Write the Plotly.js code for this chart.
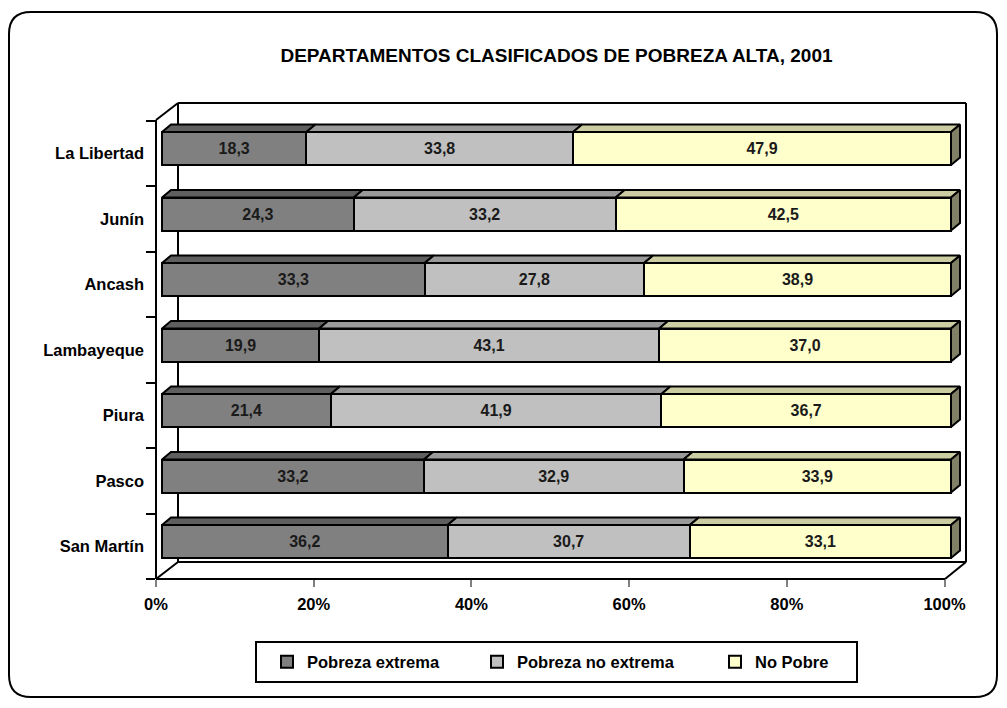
<!DOCTYPE html>
<html>
<head>
<meta charset="utf-8">
<script src="https://cdn.plot.ly/plotly-3.0.1.min.js"></script>
<style>
  html, body { margin: 0; padding: 0; background: #ffffff; }
  #chart { width: 1007px; height: 708px; }
</style>
</head>
<body>
<div id="chart"></div>
<script>
// ---------- DATA ----------
const chartTitle = 'DEPARTAMENTOS CLASIFICADOS DE POBREZA ALTA, 2001';
const categories = ['La Libertad', 'Junín', 'Ancash', 'Lambayeque', 'Piura', 'Pasco', 'San Martín'];
const seriesNames = ['Pobreza extrema', 'Pobreza no extrema', 'No Pobre'];
const pobrezaExtrema   = [18.3, 24.3, 33.3, 19.9, 21.4, 33.2, 36.2];
const pobrezaNoExtrema = [33.8, 33.2, 27.8, 43.1, 41.9, 32.9, 30.7];
const noPobre          = [47.9, 42.5, 38.9, 37.0, 36.7, 33.9, 33.1];
const xTickVals = [0, 20, 40, 60, 80, 100];
const xTickText = ['0%', '20%', '40%', '60%', '80%', '100%'];

// ---------- STYLE ----------
const seriesValues = [pobrezaExtrema, pobrezaNoExtrema, noPobre];
const frontColors = ['#808080', '#C0C0C0', '#FFFFCC'];
const topColors   = ['#5f5f5f', '#9a9a9a', '#CCCCA3'];
const sideColor   = '#808066';
const legendIds   = ['legend', 'legend2', 'legend3'];
const NARROW = '"Liberation Sans Narrow", "Liberation Sans", Arial, sans-serif';
const WIDE = '"Liberation Sans", Arial, sans-serif';

// plot area in pixels
const L = 156, R = 966, T = 103, B = 579;
const W = R - L, H = B - T;
const PX = px => (px - L) / W;
const PY = py => (B - py) / H;

const n = categories.length;
const yPos = categories.map((c, i) => n - 1 - i);
const barW = 0.504;
const hw = barW / 2;
const dX = 1.141;   // depth offset in x2 units
const dY = 0.1145;  // depth offset in y2 units

const fmt = v => v.toFixed(1).replace('.', ',');

const traces = [];
// empty trace so the front-plane axes (x, y) form a drawn subplot
traces.push({ type: 'scatter', mode: 'none', x: [], y: [], xaxis: 'x', yaxis: 'y', showlegend: false, hoverinfo: 'skip' });
// front faces (bars)
seriesValues.forEach((vals, s) => {
  traces.push({
    type: 'bar', orientation: 'h',
    x: vals, y: yPos,
    xaxis: 'x2', yaxis: 'y2',
    width: barW,
    name: seriesNames[s],
    legend: legendIds[s],
    marker: { color: frontColors[s], line: { color: '#000000', width: 2 } },
    text: vals.map(fmt),
    textposition: 'inside',
    insidetextanchor: 'middle',
    textangle: 0,
    constraintext: 'none',
    textfont: { family: NARROW, size: 16, color: '#1a1a1a', weight: 'bold' },
    hoverinfo: 'name+x'
  });
});
// top faces
seriesValues.forEach((vals, s) => {
  const xs = [], ys = [];
  vals.forEach((v, i) => {
    let start = 0;
    for (let k = 0; k < s; k++) start += seriesValues[k][i];
    const end = start + v;
    const yt = yPos[i] + hw;
    xs.push(start, end, end + dX, start + dX, start, null);
    ys.push(yt, yt, yt + dY, yt + dY, yt, null);
  });
  traces.push({
    type: 'scatter', mode: 'lines', x: xs, y: ys, xaxis: 'x2', yaxis: 'y2',
    fill: 'toself', fillcolor: topColors[s],
    line: { color: '#000000', width: 2 },
    showlegend: false, hoverinfo: 'skip'
  });
});
// right side faces
{
  const xs = [], ys = [];
  yPos.forEach((y, i) => {
    let total = 0;
    seriesValues.forEach(vals => { total += vals[i]; });
    const yt = y + hw, yb = y - hw;
    xs.push(total, total + dX, total + dX, total, total, null);
    ys.push(yb, yb + dY, yt + dY, yt, yb, null);
  });
  traces.push({
    type: 'scatter', mode: 'lines', x: xs, y: ys, xaxis: 'x2', yaxis: 'y2',
    fill: 'toself', fillcolor: sideColor,
    line: { color: '#000000', width: 2 },
    showlegend: false, hoverinfo: 'skip'
  });
}

// frame shapes (pixel positions -> paper)
const seg = (x0, y0, x1, y1, extra) => Object.assign({
  type: 'line', xref: 'paper', yref: 'paper',
  x0: PX(x0), y0: PY(y0), x1: PX(x1), y1: PY(y1),
  line: { color: '#000000', width: 2 }, layer: 'below'
}, extra || {});

const bl = 9, bt = 12, br = 997, bb = 697, rr = 22;
const pt = (x, y) => PX(x).toFixed(5) + ',' + PY(y).toFixed(5);
const borderPath =
  'M' + pt(bl, bt + rr) + ' Q' + pt(bl, bt) + ' ' + pt(bl + rr, bt) +
  ' L' + pt(br - rr, bt) + ' Q' + pt(br, bt) + ' ' + pt(br, bt + rr) +
  ' L' + pt(br, bb - rr) + ' Q' + pt(br, bb) + ' ' + pt(br - rr, bb) +
  ' L' + pt(bl + rr, bb) + ' Q' + pt(bl, bb) + ' ' + pt(bl, bb - rr) + ' Z';

const shapes = [
  { type: 'path', xref: 'paper', yref: 'paper', path: borderPath,
    line: { color: '#000000', width: 2 }, layer: 'below' },
  seg(178, 103, 966, 103),
  seg(966, 103, 966, 562),
  seg(178, 103, 178, 562),
  seg(178, 562, 966, 562),
  seg(156, 120, 178, 103),
  seg(156, 579, 178, 562),
  seg(156, 120, 156, 579),
  seg(156, 579, 945, 579),
  seg(945, 579, 966, 562),
  { type: 'rect', xref: 'paper', yref: 'paper',
    x0: PX(256), y0: PY(642), x1: PX(857), y1: PY(682),
    line: { color: '#000000', width: 2 }, fillcolor: 'rgba(0,0,0,0)', layer: 'below' }
];

const legendFont = { family: NARROW, size: 16.5, color: '#000000', weight: 'bold' };
const legendX = [267, 477, 715];
const mkLegend = px => ({
  x: PX(px), xanchor: 'left', y: PY(662), yanchor: 'middle',
  orientation: 'h', bgcolor: 'rgba(0,0,0,0)', borderwidth: 0,
  font: legendFont
});

const layout = {
  width: 1007, height: 708,
  margin: { l: L, r: 1007 - R, t: T, b: 708 - B, pad: 0 },
  paper_bgcolor: '#ffffff',
  plot_bgcolor: 'rgba(0,0,0,0)',
  title: {
    text: chartTitle,
    x: 556.5 / 1007, xanchor: 'center', xref: 'container',
    y: 1 - 55 / 708, yanchor: 'middle', yref: 'container',
    font: { family: WIDE, size: 19, color: '#000000', weight: 'bold' }
  },
  barmode: 'stack',
  showlegend: true,
  legend: mkLegend(legendX[0]),
  legend2: mkLegend(legendX[1]),
  legend3: mkLegend(legendX[2]),
  xaxis: {
    range: [0, W / 7.885],
    tickmode: 'array', tickvals: xTickVals, ticktext: xTickText,
    ticks: 'outside', ticklen: 7, tickwidth: 2, tickcolor: '#808080',
    showgrid: false, zeroline: false, showline: false,
    ticklabelstandoff: 3,
    tickfont: { family: NARROW, size: 16.5, color: '#000000', weight: 'bold' },
    fixedrange: true
  },
  yaxis: {
    range: [-0.5, -0.5 + H / 65.5],
    tickmode: 'array', tickvals: yPos, ticktext: categories,
    ticks: '', showgrid: false, zeroline: false, showline: false,
    ticklabelstandoff: 11,
    minor: {
      tickmode: 'array',
      tickvals: [-0.5, 0.5, 1.5, 2.5, 3.5, 4.5, 5.5, 6.5],
      ticks: 'outside', ticklen: 9, tickwidth: 2, tickcolor: '#000000', showgrid: false
    },
    tickfont: { family: NARROW, size: 16.5, color: '#000000', weight: 'bold' },
    fixedrange: true
  },
  xaxis2: {
    overlaying: 'x', visible: false,
    range: [-6 / 7.89, (W - 6) / 7.89], fixedrange: true
  },
  yaxis2: {
    overlaying: 'y', visible: false,
    range: [-0.5725, -0.5725 + H / 65.5], fixedrange: true
  },
  shapes: shapes
};

Plotly.newPlot('chart', traces, layout, { displayModeBar: false, staticPlot: true });
</script>
</body>
</html>
